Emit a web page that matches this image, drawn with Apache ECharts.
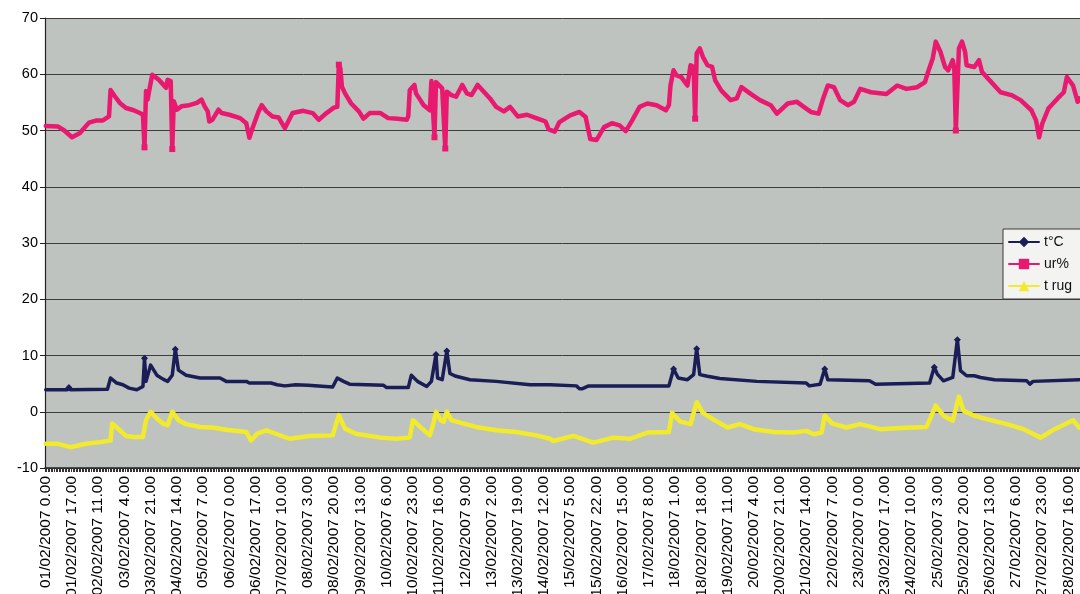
<!DOCTYPE html>
<html>
<head>
<meta charset="utf-8">
<script src="https://cdn.jsdelivr.net/npm/echarts@6/dist/echarts.min.js"></script>
<style>
  html, body { margin: 0; padding: 0; background: #ffffff; }
  #chart { width: 1080px; height: 594px; }
</style>
</head>
<body>
<div id="chart"></div>
<script>
// Hourly logger readings, February 2007. One hour is absent from the log on 02/02.
const YEAR = 2007;
const MONTH = 2;
const TOTAL_HOURS = 671;      // 01/02 0.00 .. 28/02 23.00
const MISSING_HOUR = 30;      // hour offset with no reading

// Category labels, one per logged hour
const timeLabels = [];
for (let h = 0; h <= TOTAL_HOURS; h++) {
  if (h === MISSING_HOUR) continue;
  const day = 1 + Math.floor(h / 24);
  const hour = h % 24;
  timeLabels.push(String(day).padStart(2, '0') + '/' + String(MONTH).padStart(2, '0') + '/' + YEAR + ' ' + hour + '.00');
}

// Y axis range
const yMin = -10, yMax = 70, yStep = 10;

// Readings as [reading index, value]; only the turning points of each trace
const tempC = [
  [0,3.9],[14,3.9],[15,4.3],[16,3.9],[40,4.0],[41,4.2],[42,6.0],[46,5.1],[50,4.8],[54,4.2],[59,3.9],[63,4.5],
  [64,9.5],[65,5.4],[68,8.3],[72,6.5],[76,5.8],[79,5.4],[82,6.5],[84,11.1],[86,7.4],[91,6.5],[100,6.0],[113,6.0],
  [117,5.4],[130,5.4],[132,5.1],[146,5.1],[150,4.8],[155,4.6],[162,4.8],[170,4.7],[186,4.4],[189,6.0],[193,5.4],
  [197,4.9],[219,4.7],[221,4.3],[235,4.3],[237,6.5],[241,5.4],[247,4.5],[250,5.4],[253,10.2],[254,6.0],[257,5.7],
  [260,10.8],[262,6.8],[266,6.3],[275,5.7],[292,5.4],[314,4.8],[327,4.8],[344,4.6],[346,4.1],[348,4.1],[352,4.6],
  [404,4.6],[406,6.6],[407,7.6],[410,6.0],[416,5.7],[420,6.6],[422,11.2],[424,6.6],[429,6.3],[437,5.9],[461,5.4],
  [493,5.1],[495,4.6],[502,4.9],[505,7.6],[507,5.7],[534,5.5],[538,4.9],[573,5.1],[576,7.9],[578,6.7],[582,5.5],
  [588,6.1],[591,12.8],[593,7.3],[597,6.4],[602,6.4],[606,6.1],[615,5.7],[636,5.5],[638,4.9],[640,5.4],[670,5.7]
];
const humidity = [
  [0,50.8],[8,50.7],[12,50.0],[17,48.8],[22,49.5],[28,51.4],[33,51.8],[37,51.8],[41,52.5],[42,57.2],[45,56.0],
  [48,54.9],[52,54.0],[57,53.6],[61,53.1],[63,52.8],[64,47.0],[65,57.0],[66,55.5],[67,57.0],[69,59.9],[73,59.1],
  [76,58.2],[78,57.6],[79,59.0],[81,58.8],[82,46.7],[83,55.2],[85,53.7],[88,54.3],[93,54.5],[98,54.9],[101,55.5],
  [103,54.3],[105,53.4],[106,51.6],[108,51.9],[112,53.7],[114,53.1],[119,52.8],[126,52.2],[130,51.3],[132,48.7],
  [134,50.4],[138,53.4],[140,54.5],[143,53.4],[147,52.5],[151,52.3],[155,50.4],[160,53.1],[167,53.5],[173,53.1],
  [177,51.9],[182,53.1],[187,54.1],[189,54.2],[190,61.7],[191,61.0],[192,57.8],[194,56.6],[198,54.8],[203,53.4],
  [206,52.1],[210,53.1],[217,53.1],[222,52.2],[228,52.1],[234,51.9],[235,52.5],[236,57.2],[239,58.1],[240,56.6],
  [245,54.5],[249,53.6],[250,58.8],[251,58.9],[252,48.8],[253,58.6],[257,57.5],[258,57.2],[259,46.8],[260,56.9],
  [263,56.3],[266,56.0],[270,58.1],[273,56.6],[276,56.3],[280,58.1],[284,56.9],[288,55.7],[292,54.2],[297,53.4],
  [301,54.2],[306,52.5],[312,52.8],[318,52.2],[322,51.8],[324,51.6],[326,50.2],[330,49.8],[333,51.5],[340,52.7],
  [346,53.3],[350,52.4],[353,48.5],[357,48.3],[362,50.6],[367,51.3],[372,50.9],[376,49.9],[380,51.7],[385,54.2],
  [390,54.8],[396,54.5],[402,53.6],[404,54.5],[405,58.0],[407,60.7],[409,59.8],[412,59.5],[416,58.0],[418,61.6],
  [420,61.3],[421,52.1],[422,63.7],[424,64.6],[426,63.1],[429,61.6],[432,61.3],[434,58.9],[438,57.1],[444,55.4],
  [448,55.7],[451,57.7],[457,56.5],[463,55.4],[470,54.5],[474,53.0],[481,54.8],[487,55.1],[493,53.9],[496,53.3],
  [501,53.0],[504,55.7],[507,58.0],[511,57.7],[515,55.4],[520,54.5],[524,55.1],[528,57.4],[535,56.8],[545,56.5],
  [552,58.0],[558,57.4],[565,57.7],[570,58.6],[572,60.4],[575,62.8],[577,65.8],[580,64.0],[583,61.3],[585,60.7],
  [588,62.5],[589,61.0],[590,50.0],[592,64.6],[594,65.8],[596,64.0],[597,61.6],[602,61.3],[605,62.5],[607,60.4],
  [613,58.6],[619,56.8],[626,56.3],[632,55.4],[639,53.6],[642,51.8],[644,48.8],[646,51.2],[650,53.9],[656,55.7],
  [660,56.8],[662,59.5],[666,58.0],[669,55.1],[670,55.7]
];
const tempRug = [
  [0,-5.7],[8,-5.7],[16,-6.3],[26,-5.7],[35,-5.4],[42,-5.1],[43,-2.1],[48,-3.3],[52,-4.3],[57,-4.5],[63,-4.5],
  [65,-1.5],[68,0.0],[72,-1.2],[76,-2.1],[79,-2.4],[82,0.0],[86,-1.5],[91,-2.2],[100,-2.7],[108,-2.8],[117,-3.2],
  [130,-3.6],[133,-5.1],[137,-3.9],[143,-3.3],[146,-3.6],[158,-4.8],[171,-4.3],[186,-4.2],[190,-0.6],[194,-3.0],
  [201,-3.9],[217,-4.6],[227,-4.8],[236,-4.6],[238,-1.5],[244,-3.0],[249,-4.2],[251,-2.4],[253,0.0],[256,-1.5],
  [258,-1.8],[260,0.0],[263,-1.5],[271,-2.1],[279,-2.7],[292,-3.3],[305,-3.6],[318,-4.2],[327,-4.8],[329,-5.2],
  [342,-4.3],[355,-5.5],[368,-4.6],[379,-4.8],[390,-3.7],[404,-3.6],[406,-0.2],[411,-1.7],[418,-2.2],[422,1.7],
  [426,-0.2],[433,-1.4],[442,-2.8],[450,-2.2],[459,-3.1],[472,-3.6],[485,-3.7],[493,-3.4],[498,-4.0],[503,-3.7],
  [505,-0.7],[510,-2.1],[519,-2.8],[528,-2.2],[541,-3.1],[554,-2.9],[571,-2.7],[577,1.1],[582,-0.7],[588,-1.6],
  [592,2.7],[595,0.2],[602,-0.7],[610,-1.3],[623,-2.2],[634,-3.1],[645,-4.6],[654,-3.1],[666,-1.5],[670,-2.8]
];

// Readings whose marker stands out on its own (isolated peaks and drops)
const tempCMarked = [15, 64, 84, 253, 260, 407, 422, 505, 576, 591];
const humidityMarked = [64, 82, 190, 252, 259, 421, 590];
const tempRugMarked = [];

function withMarkers(points, marked, size) {
  return points.map(p => marked.includes(p[0]) ? { value: p, symbolSize: size } : p);
}

const chart = echarts.init(document.getElementById('chart'), null, { renderer: 'canvas' });

const FONT = '"Liberation Sans", Arial, sans-serif';

function lineSeries(name, color, width, symbol, data) {
  return {
    name: name,
    type: 'line',
    data: data,
    symbol: symbol,
    symbolSize: 0,
    showSymbol: true,
    showAllSymbol: true,
    animation: false,
    lineStyle: { color: color, width: width, join: 'round', cap: 'round' },
    itemStyle: { color: color, borderWidth: 0 },
    emphasis: { disabled: true }
  };
}

chart.setOption({
  backgroundColor: '#ffffff',
  animation: false,
  grid: {
    left: 45, right: 0, top: 18, bottom: 126,
    outerBoundsMode: 'none',
    containLabel: false,
    show: true, backgroundColor: '#bfc3bf', borderWidth: 0
  },
  legend: {
    orient: 'vertical',
    left: 1003, top: 229,
    padding: [6, 60, 6, 5],
    itemGap: 8,
    itemWidth: 30, itemHeight: 13,
    backgroundColor: '#f3f3f1',
    borderColor: '#3a3a3a', borderWidth: 1,
    textStyle: { fontFamily: FONT, fontSize: 14, color: '#111' },
    data: ['t°C', 'ur%', 't rug']
  },
  xAxis: {
    type: 'category',
    data: timeLabels,
    boundaryGap: true,
    axisLine: { show: true, onZero: false, lineStyle: { color: '#222', width: 1.5 } },
    axisTick: { show: true, interval: 0, length: 4, lineStyle: { color: '#333', width: 1 } },
    axisLabel: {
      interval: 16,
      rotate: 90,
      margin: 8,
      fontFamily: FONT, fontSize: 15.5, color: '#000'
    },
    splitLine: { show: false }
  },
  yAxis: {
    type: 'value',
    min: yMin, max: yMax, interval: yStep,
    axisLine: { show: true, lineStyle: { color: '#222', width: 1.2 } },
    axisTick: { show: true, length: 5, lineStyle: { color: '#222' } },
    axisLabel: { fontFamily: FONT, fontSize: 14.5, color: '#000', margin: 7 },
    splitLine: { show: true, lineStyle: { color: '#3c3c3c', width: 1 } }
  },
  series: [
    lineSeries('t°C', '#1a1d56', 3.5, 'diamond', withMarkers(tempC, tempCMarked, 7)),
    lineSeries('ur%', '#e8196e', 4.5, 'rect', withMarkers(humidity, humidityMarked, 6)),
    lineSeries('t rug', '#f2ea2c', 4.5, 'triangle', withMarkers(tempRug, tempRugMarked, 6))
  ]
});
</script>
</body>
</html>
